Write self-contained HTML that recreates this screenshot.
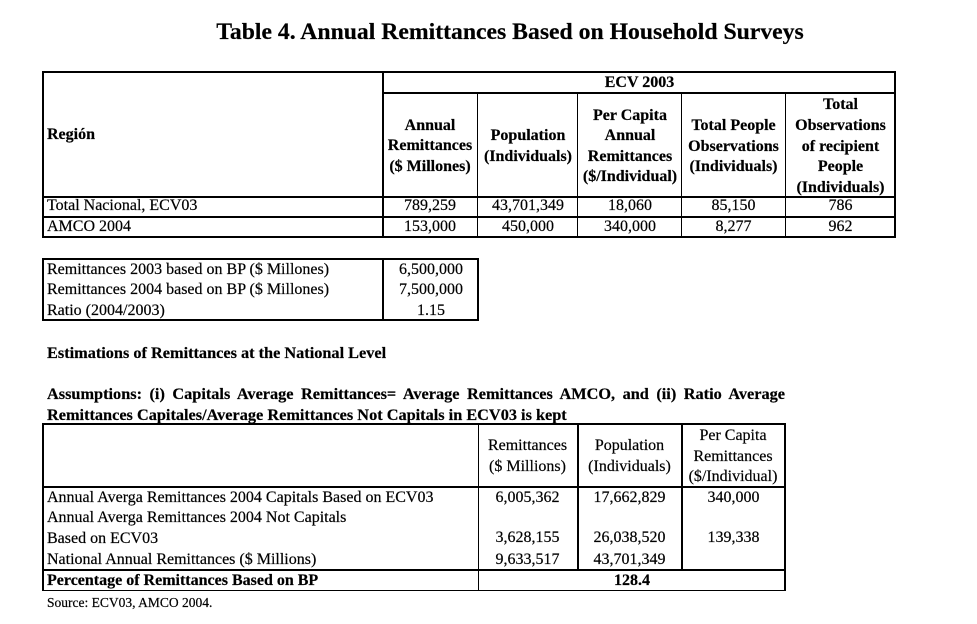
<!DOCTYPE html>
<html><head><meta charset="utf-8">
<style>
html,body{margin:0;padding:0;background:#fff;}
body{width:977px;height:624px;position:relative;overflow:hidden;font-family:"Liberation Serif",serif;color:#000;}
.l{position:absolute;background:#000;}
.t{position:absolute;white-space:nowrap;font-size:16px;line-height:20.6px;-webkit-text-stroke:0.2px #000;}
.c{text-align:center;width:200px;}
.b{font-weight:bold;}
</style></head><body>

<div class="t b" style="left:110px;width:800px;text-align:center;top:18px;font-size:23.7px;line-height:28px;">Table 4. Annual Remittances Based on Household Surveys</div>

<!-- Table 1 lines -->
<div class="l" style="left:42px;top:71px;width:854px;height:2px"></div>
<div class="l" style="left:42px;top:71px;width:2px;height:167px"></div>
<div class="l" style="left:894px;top:71px;width:2px;height:167px"></div>
<div class="l" style="left:42px;top:236px;width:854px;height:2px"></div>
<div class="l" style="left:382px;top:71px;width:2px;height:167px"></div>
<div class="l" style="left:382px;top:92px;width:514px;height:2px"></div>
<div class="l" style="left:42px;top:196px;width:854px;height:2px"></div>
<div class="l" style="left:42px;top:216px;width:854px;height:2px"></div>
<div class="l" style="left:477px;top:92px;width:1px;height:146px"></div>
<div class="l" style="left:577px;top:92px;width:1px;height:146px"></div>
<div class="l" style="left:681px;top:92px;width:1px;height:146px"></div>
<div class="l" style="left:785px;top:92px;width:1px;height:146px"></div>

<!-- Table 1 text -->
<div class="t b c" style="left:539.5px;top:72.7px">ECV 2003</div>
<div class="t b" style="left:47px;top:124.7px">Región</div>
<div class="t b c" style="left:330px;top:115.7px">Annual<br>Remittances<br>($ Millones)</div>
<div class="t b c" style="left:428px;top:126.4px">Population<br>(Individuals)</div>
<div class="t b c" style="left:530px;top:105.7px">Per Capita<br>Annual<br>Remittances<br>($/Individual)</div>
<div class="t b c" style="left:633.5px;top:116px">Total People<br>Observations<br>(Individuals)</div>
<div class="t b c" style="left:740.5px;top:95.4px">Total<br>Observations<br>of recipient<br>People<br>(Individuals)</div>

<div class="t" style="left:47px;top:196.4px">Total Nacional, ECV03</div>
<div class="t c" style="left:330px;top:196.4px">789,259</div>
<div class="t c" style="left:428px;top:196.4px">43,701,349</div>
<div class="t c" style="left:530px;top:196.4px">18,060</div>
<div class="t c" style="left:633.5px;top:196.4px">85,150</div>
<div class="t c" style="left:740.5px;top:196.4px">786</div>

<div class="t" style="left:47px;top:216.7px">AMCO 2004</div>
<div class="t c" style="left:330px;top:216.7px">153,000</div>
<div class="t c" style="left:428px;top:216.7px">450,000</div>
<div class="t c" style="left:530px;top:216.7px">340,000</div>
<div class="t c" style="left:633.5px;top:216.7px">8,277</div>
<div class="t c" style="left:740.5px;top:216.7px">962</div>

<!-- Table 2 -->
<div class="l" style="left:42px;top:258px;width:437px;height:2px"></div>
<div class="l" style="left:42px;top:258px;width:2px;height:63px"></div>
<div class="l" style="left:477px;top:258px;width:2px;height:63px"></div>
<div class="l" style="left:42px;top:319px;width:437px;height:2px"></div>
<div class="l" style="left:382px;top:258px;width:2px;height:63px"></div>

<div class="t" style="left:47px;top:259.8px">Remittances 2003 based on BP ($ Millones)</div>
<div class="t" style="left:47px;top:280.3px">Remittances 2004 based on BP ($ Millones)</div>
<div class="t" style="left:47px;top:300.8px">Ratio (2004/2003)</div>
<div class="t c" style="left:331px;top:259.8px">6,500,000</div>
<div class="t c" style="left:331px;top:280.3px">7,500,000</div>
<div class="t c" style="left:331px;top:300.8px">1.15</div>

<div class="t b" style="left:47px;top:342.7px;font-size:16.3px">Estimations of Remittances at the National Level</div>

<div class="t b" style="left:47px;top:383.7px;width:738px;font-size:16.3px;white-space:normal;text-align:justify;text-align-last:justify;height:21px;overflow:hidden">Assumptions: (i) Capitals Average Remittances= Average Remittances AMCO, and (ii) Ratio Average</div>
<div class="t b" style="left:47px;top:404.7px;font-size:16.3px">Remittances Capitales/Average Remittances Not Capitals in ECV03 is kept</div>

<!-- Table 3 -->
<div class="l" style="left:42px;top:423px;width:744px;height:2px"></div>
<div class="l" style="left:42px;top:423px;width:2px;height:168px"></div>
<div class="l" style="left:784px;top:423px;width:2px;height:168px"></div>
<div class="l" style="left:42px;top:486px;width:744px;height:2px"></div>
<div class="l" style="left:42px;top:569px;width:744px;height:2px"></div>
<div class="l" style="left:42px;top:590px;width:744px;height:1px"></div>
<div class="l" style="left:478px;top:423px;width:1px;height:168px"></div>
<div class="l" style="left:577px;top:423px;width:2px;height:147px"></div>
<div class="l" style="left:681px;top:423px;width:2px;height:147px"></div>

<div class="t c" style="left:427.5px;top:434.9px;line-height:21.6px">Remittances<br>($ Millions)</div>
<div class="t c" style="left:529.5px;top:434.9px;line-height:21.6px">Population<br>(Individuals)</div>
<div class="t c" style="left:633px;top:426.4px;line-height:20.3px">Per Capita<br>Remittances<br>($/Individual)</div>

<div class="t" style="left:47px;top:488px">Annual Averga Remittances 2004 Capitals Based on ECV03</div>
<div class="t" style="left:47px;top:508px">Annual Averga Remittances 2004 Not Capitals</div>
<div class="t" style="left:47px;top:528.7px">Based on ECV03</div>
<div class="t" style="left:47px;top:549.7px">National Annual Remittances ($ Millions)</div>
<div class="t b" style="left:47px;top:571.2px">Percentage of Remittances Based on BP</div>

<div class="t c" style="left:427.5px;top:488px">6,005,362</div>
<div class="t c" style="left:529.5px;top:488px">17,662,829</div>
<div class="t c" style="left:633.5px;top:488px">340,000</div>
<div class="t c" style="left:427.5px;top:528px">3,628,155</div>
<div class="t c" style="left:529.5px;top:528px">26,038,520</div>
<div class="t c" style="left:633.5px;top:528px">139,338</div>
<div class="t c" style="left:427.5px;top:549.7px">9,633,517</div>
<div class="t c" style="left:529.5px;top:549.7px">43,701,349</div>
<div class="t b c" style="left:532px;top:570.8px">128.4</div>

<div class="t" style="left:47px;top:594.7px;font-size:13.5px;line-height:16px">Source: ECV03, AMCO 2004.</div>

</body></html>
